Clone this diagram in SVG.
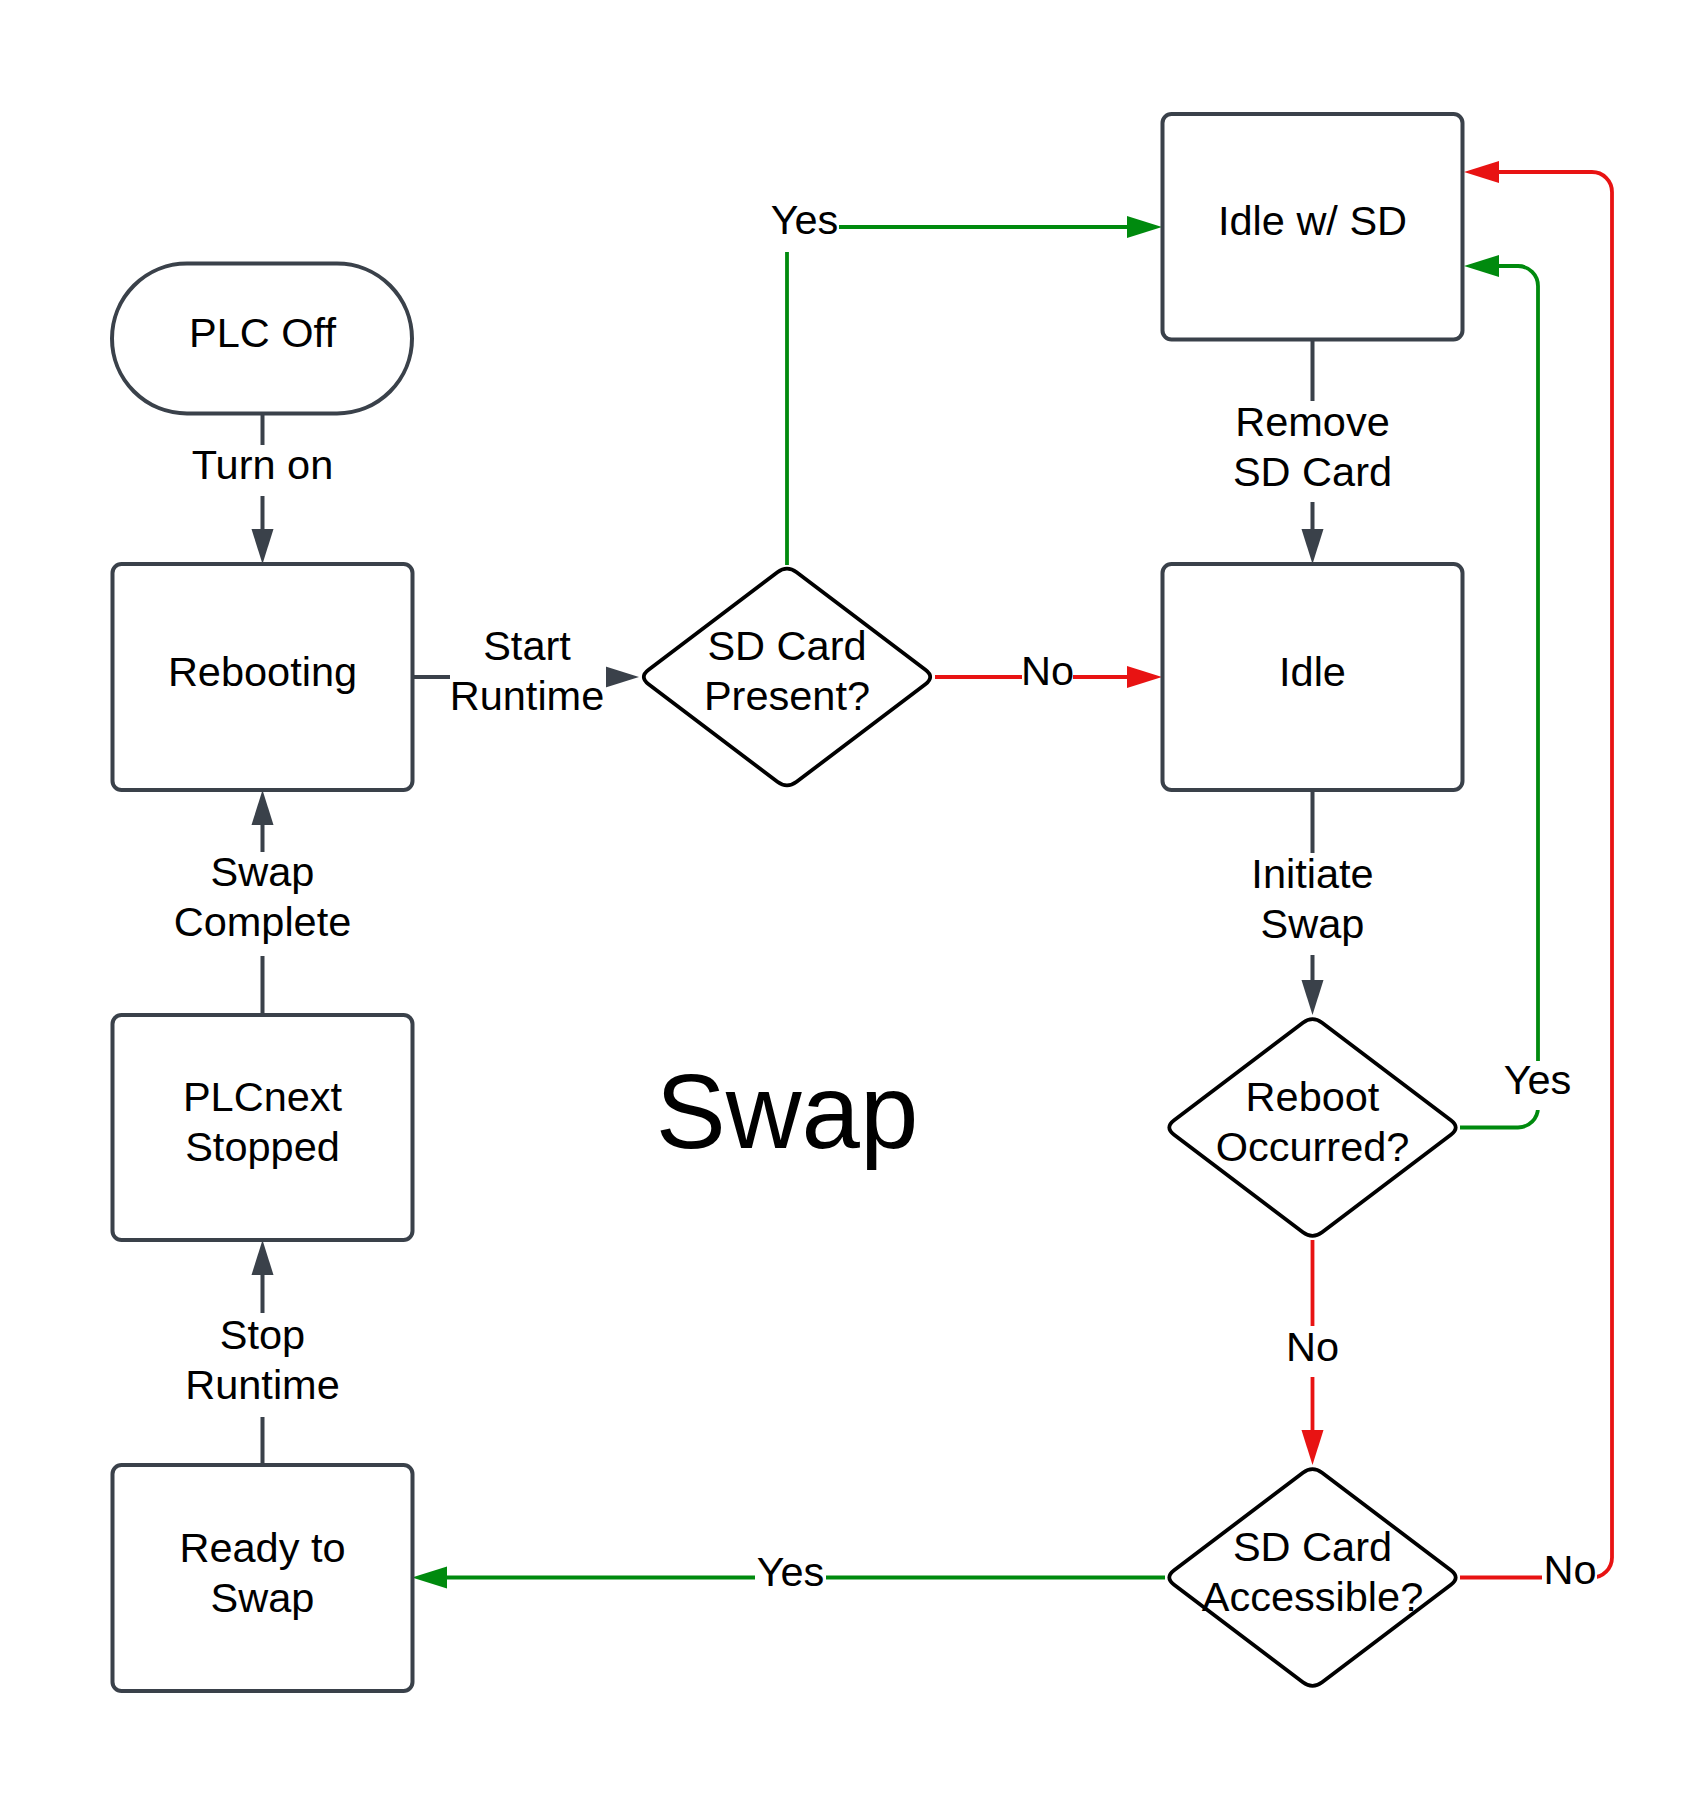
<svg xmlns="http://www.w3.org/2000/svg" width="1693" height="1804" viewBox="0 0 1693 1804">
<style>
text{font-family:"Liberation Sans",Arial,sans-serif;font-size:41.5px;fill:#000;text-anchor:middle}
.box{fill:#fff;stroke:#3a414a;stroke-width:4}
.dia{fill:#fff;stroke:#000;stroke-width:3.8;stroke-linejoin:round}
.c{fill:none;stroke-width:4}
.g{stroke:#3a414a}
.gr{stroke:#008a0e;stroke-width:3.8}
.rd{stroke:#e81313;stroke-width:3.8}
.lbg{fill:#fff}
.big{font-size:105px}
</style>
<defs>
<path id="diamond" d="M-9.6,-104.8 Q0,-112 9.6,-104.8 L138.4,-7.2 Q148,0 138.4,7.2 L9.6,104.8 Q0,112 -9.6,104.8 L-138.4,7.2 Q-148,0 -138.4,-7.2 Z"/>
<marker id="ag" markerUnits="userSpaceOnUse" markerWidth="36" markerHeight="22" refX="0" refY="11" orient="auto" overflow="visible"><path d="M0,0 L35,11 L0,22 Z" fill="#3a414a"/></marker>
<marker id="agr" markerUnits="userSpaceOnUse" markerWidth="36" markerHeight="22" refX="0" refY="11" orient="auto" overflow="visible"><path d="M0,0 L35,11 L0,22 Z" fill="#008a0e"/></marker>
<marker id="ard" markerUnits="userSpaceOnUse" markerWidth="36" markerHeight="22" refX="0" refY="11" orient="auto" overflow="visible"><path d="M0,0 L35,11 L0,22 Z" fill="#e81313"/></marker>
</defs>
<rect width="1693" height="1804" fill="#fff"/>

<g id="connectors">
<path class="c g" d="M262.5,413 V529" marker-end="url(#ag)"/>
<path class="c g" d="M412,677 H604" marker-end="url(#ag)"/>
<path class="c gr" d="M787,565 V227 H1127" marker-end="url(#agr)"/>
<path class="c rd" d="M935,677 H1127" marker-end="url(#ard)"/>
<path class="c g" d="M1312.5,339 V529" marker-end="url(#ag)"/>
<path class="c g" d="M1312.5,790 V980" marker-end="url(#ag)"/>
<path class="c rd" d="M1312.5,1240 V1430" marker-end="url(#ard)"/>
<path class="c gr" d="M1460,1127.5 H1518 A20,20 0 0 0 1538,1107.5 V286 A20,20 0 0 0 1518,266 H1499" marker-end="url(#agr)"/>
<path class="c rd" d="M1460,1577.5 H1592 A20,20 0 0 0 1612,1557.5 V192 A20,20 0 0 0 1592,172 H1499" marker-end="url(#ard)"/>
<path class="c gr" d="M1165,1577.5 H447" marker-end="url(#agr)"/>
<path class="c g" d="M262.5,1465 V1275" marker-end="url(#ag)"/>
<path class="c g" d="M262.5,1015 V825" marker-end="url(#ag)"/>

<g id="labels">
<rect class="lbg" x="190" y="445" width="145" height="51"/>
<text x="262.5" y="479">Turn on</text>
<rect class="lbg" x="450" y="640" width="156" height="80"/>
<text x="527" y="660">Start</text>
<text x="527" y="710">Runtime</text>
<rect class="lbg" x="770" y="200" width="69" height="52"/>
<text x="804.5" y="234">Yes</text>
<rect class="lbg" x="1022" y="652" width="51" height="50"/>
<text x="1047.5" y="685">No</text>
<rect class="lbg" x="1240" y="401" width="145" height="101"/>
<text x="1312.5" y="435.5">Remove</text>
<text x="1312.5" y="485.5">SD Card</text>
<rect class="lbg" x="1240" y="853" width="145" height="102"/>
<text x="1312.5" y="887.5">Initiate</text>
<text x="1312.5" y="937.5">Swap</text>
<rect class="lbg" x="1503" y="1061" width="69" height="49"/>
<text x="1537.5" y="1094">Yes</text>
<rect class="lbg" x="1287" y="1326" width="51" height="51"/>
<text x="1312.5" y="1361">No</text>
<rect class="lbg" x="1542" y="1550" width="55" height="50"/>
<text x="1570" y="1584">No</text>
<rect class="lbg" x="755" y="1553" width="71" height="50"/>
<text x="790.5" y="1586">Yes</text>
<rect class="lbg" x="172" y="852" width="181" height="104"/>
<text x="262.5" y="886">Swap</text>
<text x="262.5" y="936">Complete</text>
<rect class="lbg" x="185" y="1313" width="155" height="104"/>
<text x="262.5" y="1349">Stop</text>
<text x="262.5" y="1399">Runtime</text>
</g>
</g>

<g id="plc-off">
<rect class="box" x="112" y="263.5" width="300" height="150" rx="75"/>
<text x="262.5" y="347">PLC Off</text>
</g>
<g id="rebooting">
<rect class="box" x="112.5" y="564" width="300" height="226" rx="9"/>
<text x="262.5" y="685.5">Rebooting</text>
</g>
<g id="plcnext-stopped">
<rect class="box" x="112.5" y="1015" width="300" height="225" rx="9"/>
<text x="262.5" y="1111">PLCnext</text>
<text x="262.5" y="1161">Stopped</text>
</g>
<g id="ready-to-swap">
<rect class="box" x="112.5" y="1465" width="300" height="226" rx="9"/>
<text x="262.5" y="1561.5">Ready to</text>
<text x="262.5" y="1611.5">Swap</text>
</g>
<g id="idle-sd">
<rect class="box" x="1162.5" y="114" width="300" height="225.5" rx="9"/>
<text x="1312.5" y="235">Idle w/ SD</text>
</g>
<g id="idle">
<rect class="box" x="1162.5" y="564" width="300" height="226" rx="9"/>
<text x="1312.5" y="685.5">Idle</text>
</g>
<g id="sd-present">
<use href="#diamond" class="dia" x="787" y="677"/>
<text x="787" y="660">SD Card</text>
<text x="787" y="710">Present?</text>
</g>
<g id="reboot-occurred">
<use href="#diamond" class="dia" x="1312.5" y="1127.5"/>
<text x="1312.5" y="1111">Reboot</text>
<text x="1312.5" y="1161">Occurred?</text>
</g>
<g id="sd-accessible">
<use href="#diamond" class="dia" x="1312.5" y="1577.5"/>
<text x="1312.5" y="1561">SD Card</text>
<text x="1312.5" y="1611">Accessible?</text>
</g>
<g id="title">
<text class="big" x="787" y="1148">Swap</text>
</g>
</svg>
